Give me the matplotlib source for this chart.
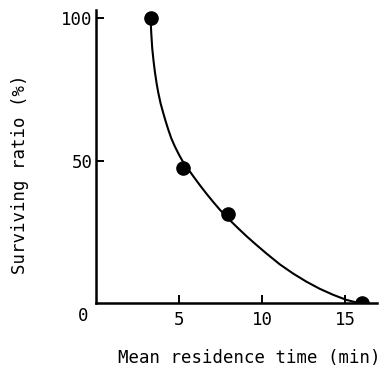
import matplotlib.pyplot as plt

# measured points
time_min = [3.3, 5.25, 7.95, 16.0]
surviving = [100, 47.6, 31.3, 0.0]

# fitted curve
curve_x = [3.3, 3.34, 3.4, 3.48, 3.56, 3.66, 3.76, 3.9, 4.06, 4.2, 4.36,
           4.55, 4.76, 5.0, 5.2, 5.5, 5.86, 6.25, 6.66, 7.05, 7.46, 7.96,
           8.5, 9.06, 9.6, 10.26, 11.06, 11.85, 12.66, 13.46, 14.26, 15.06,
           15.6]
curve_y = [100, 95, 89.5, 85, 81.2, 77.3, 74, 70.2, 66.8, 64, 61,
           57.8, 55.0, 52.2, 50.1, 47.5, 44.6, 41.5, 38.4, 35.6, 32.8, 29.7,
           26.6, 23.5, 20.7, 17.4, 13.6, 10.4, 7.5, 5.0, 2.9, 1.1,
           0.3]

xticks = [5, 10, 15]
yticks = [50, 100]

plt.rcParams['font.family'] = ['DejaVu Sans Mono']

fig = plt.figure(figsize=(3.81, 3.68), dpi=100)
ax = fig.add_axes([0.251, 0.1766, 0.7385, 0.7964])

ax.plot(curve_x, curve_y, color='black', lw=1.5, solid_joinstyle='round')
# scatter gets clipped at the axis, so the last dot shows as a half disc
ax.scatter(time_min, surviving, s=9.5 ** 2, color='black', zorder=3)

ax.set_xlim(0, 16.9)
ax.set_ylim(0, 103)
ax.set_xticks(xticks)
ax.set_yticks(yticks)
ax.tick_params(direction='in', length=6, width=1.4, labelsize=12.5)
ax.tick_params(axis='x', pad=6)
ax.tick_params(axis='y', pad=2)
ax.text(-0.78, -0.045, '0', transform=ax.get_xaxis_transform(),
        ha='center', va='center', fontsize=12.5)

for s in ['top', 'right']:
    ax.spines[s].set_visible(False)
for s in ['left', 'bottom']:
    ax.spines[s].set_linewidth(1.8)

ax.set_xlabel('Mean residence time (min)', fontsize=12.5, va='center')
ax.xaxis.set_label_coords(0.545, -0.188)
ax.set_ylabel('Surviving ratio (%)', fontsize=12.5, va='center')
ax.yaxis.set_label_coords(-0.269, 0.44)

plt.savefig('out.png', dpi=100)
